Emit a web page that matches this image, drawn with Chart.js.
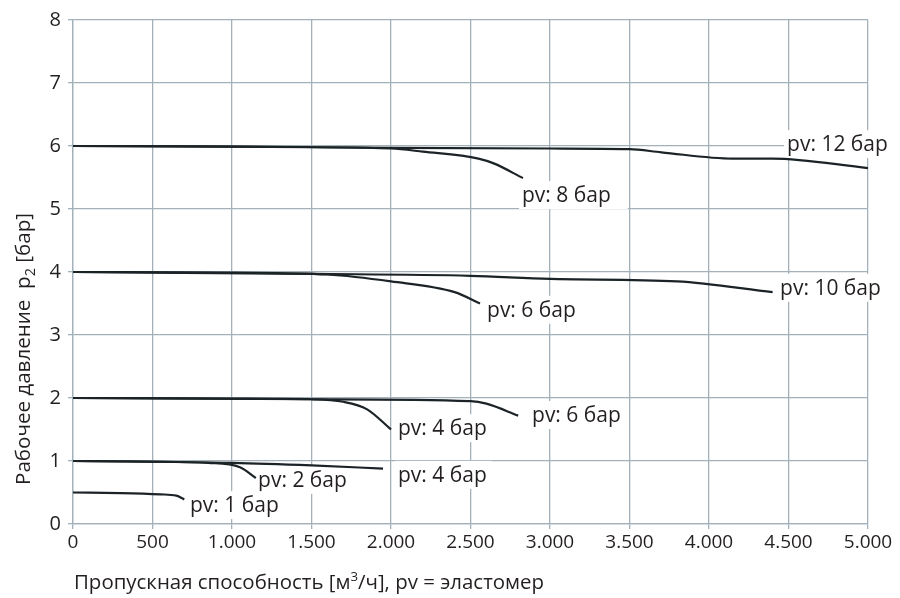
<!DOCTYPE html>
<html><head><meta charset="utf-8">
<script src="https://cdn.jsdelivr.net/npm/chart.js@4"></script>
<style>html,body{margin:0;padding:0;background:#fff}</style>
</head><body>
<canvas id="c" width="900" height="598"></canvas>
<script>
// ---- data ----
const xTickValues = [0,500,1000,1500,2000,2500,3000,3500,4000,4500,5000];
const xTickLabels = ['0','500','1.000','1.500','2.000','2.500','3.000','3.500','4.000','4.500','5.000'];
const yTickLabels = ['0','1','2','3','4','5','6','7','8'];

const pv12X = [0, 1000, 2000, 3000, 3500, 3700, 4150, 4400, 5000];
const pv12Y = [6.00, 5.99, 5.97, 5.96, 5.95, 5.90, 5.80, 5.80, 5.65];
const pv8X  = [0, 1000, 2000, 2200, 2550, 2650, 2830];
const pv8Y  = [6.00, 5.99, 5.96, 5.91, 5.80, 5.72, 5.49];
const pv10X = [0, 1500, 2500, 3000, 3800, 4400];
const pv10Y = [4.00, 3.97, 3.94, 3.89, 3.85, 3.68];
const pv6aX = [0, 1000, 1600, 2000, 2400, 2560];
const pv6aY = [4.00, 3.99, 3.96, 3.85, 3.68, 3.50];
const pv6bX = [0, 1500, 2500, 2600, 2800];
const pv6bY = [2.00, 1.98, 1.95, 1.91, 1.72];
const pv4aX = [0, 1000, 1500, 1700, 1850, 2000];
const pv4aY = [2.00, 1.99, 1.98, 1.94, 1.82, 1.50];
const pv4bX = [0, 1000, 1500, 1950];
const pv4bY = [1.00, 0.97, 0.93, 0.88];
const pv2X  = [0, 500, 850, 1050, 1150];
const pv2Y  = [1.00, 0.99, 0.97, 0.90, 0.73];
const pv1X  = [0, 300, 550, 650, 700];
const pv1Y  = [0.50, 0.49, 0.47, 0.45, 0.39];

const labelTexts = ['pv: 12 бар','pv: 8 бар','pv: 10 бар','pv: 6 бар','pv: 6 бар','pv: 4 бар','pv: 4 бар','pv: 2 бар','pv: 1 бар'];
const labelX = [4491, 2824, 4447, 2604, 2887, 2044, 2044, 1164, 736];
const labelY = [6.03, 5.22, 3.75, 3.40, 1.73, 1.52, 0.78, 0.70, 0.30];
const labelBoxExtra = [2, 14, 2, 40, 2, 4, 2, 40, 2];

// ---- chart ----
const LINE = '#1b2327';
const GRID = '#a3b1ba';
const TEXT = '#231f20';
function pts(xs, ys){ return xs.map((x,i)=>({x:x, y:ys[i]})); }
const series = [[pv12X,pv12Y],[pv8X,pv8Y],[pv10X,pv10Y],[pv6aX,pv6aY],[pv6bX,pv6bY],[pv4aX,pv4aY],[pv4bX,pv4bY],[pv2X,pv2Y],[pv1X,pv1Y]];
const datasets = series.map(s=>({
  data: pts(s[0], s[1]), borderColor: LINE, borderWidth: 2.2, pointRadius: 0,
  fill: false, tension: 0.35, cubicInterpolationMode: 'monotone'
}));

const labelsPlugin = {
  id: 'labels',
  beforeDatasetsDraw(chart){
    const ctx = chart.ctx, xs = chart.scales.x, ys = chart.scales.y;
    ctx.save();
    ctx.font = '21px "Open Sans", sans-serif';
    ctx.textBaseline = 'middle';
    labelTexts.forEach((t,i)=>{
      const px = xs.getPixelForValue(labelX[i]);
      const py = ys.getPixelForValue(labelY[i]);
      const w = ctx.measureText(t).width;
      ctx.fillStyle = '#fff';
      ctx.fillRect(px-3, py-14, w+6+labelBoxExtra[i], 28);
      ctx.fillStyle = TEXT;
      ctx.fillText(t, px, py+1);
    });
    ctx.restore();
  },
  afterDraw(chart){
    const ctx = chart.ctx;
    ctx.save();
    ctx.fillStyle = TEXT;
    // y title
    const f1 = '20px "Open Sans", sans-serif', f2 = '14px "Open Sans", sans-serif';
    const segs = [['Рабочее давление  p', f1, 0], ['2', f2, 5], [' [бар]', f1, 0]];
    let tot = 0;
    segs.forEach(s=>{ ctx.font = s[1]; tot += ctx.measureText(s[0]).width; });
    ctx.translate(30, 349);
    ctx.rotate(-Math.PI/2);
    ctx.scale(272/tot, 1);
    let x = -tot/2;
    ctx.textBaseline = 'alphabetic';
    segs.forEach(s=>{ ctx.font = s[1]; ctx.fillText(s[0], x, s[2]); x += ctx.measureText(s[0]).width; });
    ctx.restore();
    // x title
    ctx.save();
    ctx.fillStyle = TEXT;
    const g1 = '20px "Open Sans", sans-serif', g2 = '13px "Open Sans", sans-serif';
    const segx = [['Пропускная способность [м', g1, 0], ['3', g2, -8], ['/ч], pv = эластомер', g1, 0]];
    let totx = 0;
    segx.forEach(s=>{ ctx.font = s[1]; totx += ctx.measureText(s[0]).width; });
    ctx.translate(74, 589);
    ctx.scale(470/totx, 1);
    let xx = 0;
    segx.forEach(s=>{ ctx.font = s[1]; ctx.fillText(s[0], xx, s[2]); xx += ctx.measureText(s[0]).width; });
    ctx.restore();
  }
};

new Chart(document.getElementById('c'), {
  type: 'line',
  data: { datasets },
  options: {
    responsive: false, animation: false,
    layout: { padding: { left: 0, top: 20, right: 32, bottom: 0 } },
    plugins: { legend: { display: false }, tooltip: { enabled: false } },
    scales: {
      x: {
        type: 'linear', min: 0, max: 5000,
        afterBuildTicks(s){ s.ticks = xTickValues.map(v=>({value:v})); },
        afterFit(s){ s.height = 74; },
        grid: { color: GRID, lineWidth: 1.3, tickLength: 5 },
        border: { color: GRID, width: 1.3 },
        ticks: { color: TEXT, padding: 2, maxRotation: 0, autoSkip: false,
          font: { family: '"Open Sans", sans-serif', size: 19 },
          callback: (v)=> xTickLabels[xTickValues.indexOf(v)] }
      },
      y: {
        type: 'linear', min: 0, max: 8,
        ticks: { stepSize: 1, color: TEXT, padding: 7,
          font: { family: '"Open Sans", sans-serif', size: 20 },
          callback: (v)=> yTickLabels[v] },
        afterFit(s){ s.width = 73; },
        grid: { color: GRID, lineWidth: 1.3, tickLength: 5 },
        border: { color: GRID, width: 1.3 }
      }
    }
  },
  plugins: [labelsPlugin]
});
</script>
</body></html>
